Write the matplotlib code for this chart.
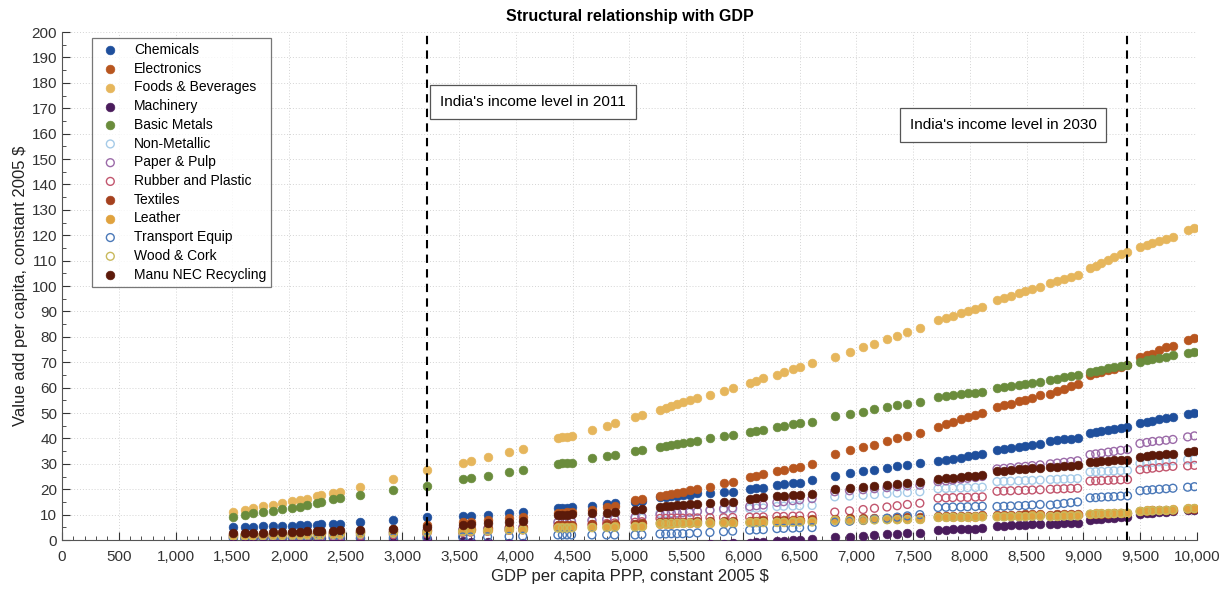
import numpy as np
import matplotlib
matplotlib.use('Agg')
import matplotlib.pyplot as plt
from matplotlib.ticker import MultipleLocator, FuncFormatter

plt.rcParams['font.family'] = ['Liberation Sans', 'DejaVu Sans']

# GDP per capita PPP (x) for every observation
gdp = [
    1510, 1610, 1680, 1770, 1860, 1940, 2030, 2100, 2160, 2250, 2280, 2390, 2450, 2630, 2920, 3215,
    3530, 3600, 3750, 3940, 4060, 4370, 4410, 4450, 4490, 4670, 4800, 4870, 5050, 5110,
    5270, 5320, 5370, 5420, 5470, 5530, 5600, 5710, 5830, 5910, 6060, 6120, 6180, 6300, 6360, 6440, 6500, 6610,
    6810, 6940, 7060, 7160, 7270, 7360, 7450, 7560, 7720, 7790, 7850, 7920, 7980, 8050, 8110,
    8240, 8300, 8360, 8430, 8490, 8550, 8620, 8710, 8770, 8830, 8890, 8950,
    9060, 9110, 9160, 9220, 9270, 9330, 9390, 9500, 9560, 9610, 9670, 9730, 9790, 9920, 9980,
]

chemicals = [
    5.1, 5.2, 5.3, 5.4, 5.5, 5.6, 5.7, 5.8, 5.9, 6.1, 6.2, 6.4, 6.5, 7.0, 7.9, 9.0,
    9.4, 9.6, 10.0, 10.6, 11.0, 12.6, 12.7, 12.8, 12.9, 13.4, 14.2, 14.5, 15.0, 15.3,
    17.0, 17.1, 17.3, 17.4, 17.6, 17.7, 18.5, 18.6, 18.9, 19.0, 20.2, 20.4, 20.6, 21.6, 21.9, 22.3, 22.5, 23.6,
    25.2, 26.2, 27.0, 27.6, 28.4, 29.0, 29.6, 30.3, 31.0, 31.5, 31.9, 32.4, 32.9, 33.3, 33.8,
    35.4, 35.8, 36.2, 36.7, 37.1, 37.5, 38.0, 39.0, 39.3, 39.6, 39.9, 40.2,
    42.0, 42.4, 42.8, 43.2, 43.6, 44.0, 44.5, 46.0, 46.5, 47.0, 47.8, 48.2, 48.6, 49.6, 50.0,
]

electronics = [
    2.0, 2.1, 2.2, 2.3, 2.4, 2.5, 2.6, 2.7, 2.8, 2.9, 3.0, 3.2, 3.3, 3.5, 4.5, 6.0,
    7.0, 7.2, 7.8, 8.5, 9.0, 10.5, 10.7, 10.9, 11.1, 12.0, 13.0, 13.5, 15.7, 16.2,
    17.5, 17.9, 18.3, 18.7, 19.1, 19.5, 20.0, 21.0, 22.3, 23.0, 25.0, 25.4, 25.8, 27.0, 27.5, 28.2, 28.6, 30.0,
    33.8, 35.3, 36.5, 37.4, 38.8, 40.0, 41.0, 42.0, 44.5, 45.5, 46.4, 47.5, 48.3, 49.3, 50.0,
    52.4, 53.0, 53.7, 54.6, 55.3, 56.1, 57.0, 57.5, 58.5, 59.5, 60.5, 61.3,
    65.0, 65.6, 66.2, 66.9, 67.5, 68.2, 69.0, 72.0, 72.7, 73.4, 75.0, 75.8, 76.5, 78.8, 79.5,
]

foods_beverages = [
    11.0, 12.0, 12.6, 13.3, 13.8, 14.5, 15.2, 15.7, 16.3, 17.2, 17.6, 18.5, 19.0, 21.0, 24.0, 27.5,
    30.3, 31.0, 32.7, 34.6, 36.0, 40.0, 40.4, 40.7, 41.0, 43.3, 45.0, 46.0, 48.5, 49.3,
    51.0, 51.8, 52.6, 53.4, 54.2, 55.0, 55.8, 57.0, 58.8, 60.0, 62.0, 62.8, 63.6, 65.0, 66.0, 67.3, 68.0, 69.7,
    72.0, 74.0, 75.8, 77.3, 79.0, 80.4, 81.8, 83.5, 86.6, 87.5, 88.3, 89.3, 90.0, 91.0, 91.7,
    94.5, 95.3, 96.1, 97.2, 98.0, 98.8, 99.6, 101.0, 101.8, 102.6, 103.4, 104.2,
    107.0, 108.0, 109.1, 110.3, 111.3, 112.5, 113.5, 115.3, 116.1, 116.8, 117.8, 118.6, 119.4, 122.2, 123.0,
]

machinery = [
    1.0, 1.0, 1.0, 1.0, 0.9, 0.9, 0.9, 0.9, 0.9, 0.8, 0.8, 0.8, 0.7, 0.7, 0.6, 0.5,
    -0.5, -0.6, -0.8, -1.0, -1.2, -2.0, -2.0, -2.1, -2.1, -2.3, -2.4, -2.5, -2.6, -2.6,
    -2.5, -2.4, -2.3, -2.2, -2.1, -2.0, -1.9, -1.7, -1.5, -1.3, -1.0, -0.9, -0.8, -0.5, -0.3, 0.0, 0.2, 0.4,
    1.0, 1.3, 1.6, 1.9, 2.2, 2.4, 2.6, 2.8, 4.0, 4.1, 4.2, 4.3, 4.4, 4.5, 4.7,
    5.5, 5.6, 5.8, 5.9, 6.0, 6.2, 6.3, 6.4, 6.5, 6.6, 6.6, 6.7,
    8.0, 8.2, 8.4, 8.6, 8.8, 9.0, 9.2, 10.4, 10.6, 10.8, 11.0, 11.2, 11.4, 11.8, 12.0,
]

basic_metals = [
    9.2, 9.9, 10.5, 11.0, 11.5, 12.2, 12.7, 13.0, 13.6, 14.6, 15.0, 16.0, 16.5, 17.7, 19.7, 21.3,
    24.0, 24.3, 25.3, 26.6, 27.5, 30.0, 30.2, 30.3, 30.5, 32.3, 33.0, 33.5, 35.2, 35.6,
    36.7, 37.0, 37.4, 37.8, 38.2, 38.6, 39.1, 40.0, 40.8, 41.3, 42.5, 42.9, 43.2, 44.5, 45.0, 45.6, 46.0, 46.5,
    49.0, 49.8, 50.6, 51.4, 52.2, 53.0, 53.6, 54.5, 56.4, 56.7, 57.0, 57.4, 57.7, 58.0, 58.3,
    59.8, 60.2, 60.6, 61.0, 61.4, 61.8, 62.3, 63.0, 63.5, 64.0, 64.5, 65.0,
    66.2, 66.6, 67.1, 67.6, 68.0, 68.5, 69.0, 70.2, 70.7, 71.2, 71.6, 72.2, 72.8, 73.8, 74.2,
]

non_metallic = [
    1.0, 1.1, 1.1, 1.2, 1.2, 1.3, 1.3, 1.4, 1.4, 1.5, 1.5, 1.6, 1.7, 2.0, 2.5, 3.0,
    3.5, 3.6, 3.9, 4.3, 4.5, 7.0, 7.0, 7.1, 7.1, 7.5, 7.9, 8.0, 8.5, 8.7,
    10.6, 10.6, 10.7, 10.7, 10.8, 10.8, 11.2, 11.5, 11.8, 12.0, 12.4, 12.5, 12.6, 13.2, 13.3, 13.4, 13.5, 13.6,
    17.0, 17.3, 17.6, 17.9, 18.2, 18.5, 18.7, 19.0, 20.2, 20.3, 20.4, 20.5, 20.6, 20.7, 20.8,
    23.0, 23.1, 23.2, 23.3, 23.4, 23.5, 23.6, 23.8, 23.9, 24.0, 24.1, 24.2,
    26.8, 26.9, 27.0, 27.1, 27.2, 27.3, 27.4, 30.2, 30.4, 30.6, 30.8, 31.0, 31.2, 31.6, 31.8,
]

paper_pulp = [
    1.5, 1.6, 1.6, 1.7, 1.8, 1.9, 2.0, 2.0, 2.1, 2.2, 2.2, 2.4, 2.5, 2.7, 3.1, 3.5,
    4.0, 4.1, 4.4, 4.8, 5.0, 7.0, 7.1, 7.2, 7.3, 7.8, 8.2, 8.4, 9.0, 9.2,
    10.0, 10.2, 10.4, 10.6, 10.8, 11.0, 11.3, 11.8, 12.3, 12.6, 13.2, 13.5, 13.8, 14.8, 15.1, 15.5, 15.8, 16.3,
    19.0, 19.4, 19.8, 20.2, 20.6, 21.0, 21.3, 21.6, 23.0, 23.3, 23.6, 24.0, 24.3, 24.6, 25.0,
    28.0, 28.2, 28.5, 28.8, 29.0, 29.3, 29.6, 30.0, 30.3, 30.6, 30.9, 31.2,
    33.6, 33.9, 34.2, 34.6, 34.9, 35.3, 35.6, 38.0, 38.4, 38.8, 39.0, 39.3, 39.6, 40.6, 41.0,
]

rubber_plastic = [
    0.8, 0.9, 0.9, 1.0, 1.0, 1.1, 1.1, 1.2, 1.2, 1.3, 1.3, 1.4, 1.5, 1.7, 2.1, 2.5,
    3.0, 3.1, 3.4, 3.8, 4.0, 5.5, 5.6, 5.6, 5.7, 6.1, 6.5, 6.7, 7.0, 7.2,
    8.5, 8.5, 8.6, 8.6, 8.6, 8.7, 8.7, 8.8, 8.8, 8.9, 9.0, 9.0, 9.1, 9.3, 9.3, 9.4, 9.5, 9.6,
    11.0, 11.5, 12.0, 12.5, 13.0, 13.5, 14.0, 14.5, 16.5, 16.6, 16.7, 16.8, 16.8, 16.9, 17.0,
    19.2, 19.3, 19.4, 19.5, 19.6, 19.7, 19.8, 20.0, 20.1, 20.2, 20.3, 20.4,
    23.2, 23.3, 23.4, 23.5, 23.6, 23.7, 23.8, 27.7, 28.0, 28.3, 28.5, 28.8, 29.0, 29.2, 29.4,
]

textiles = [
    2.2, 2.3, 2.3, 2.4, 2.5, 2.5, 2.6, 2.7, 2.7, 2.8, 2.9, 3.0, 3.1, 3.3, 3.6, 4.0,
    4.3, 4.4, 4.7, 5.0, 5.2, 6.0, 6.0, 6.1, 6.1, 6.2, 6.3, 6.4, 6.5, 6.6,
    7.0, 7.0, 7.1, 7.1, 7.2, 7.2, 7.3, 7.4, 7.5, 7.5, 7.6, 7.6, 7.7, 7.8, 7.9, 7.9, 8.0, 8.1,
    8.4, 8.5, 8.6, 8.7, 8.8, 8.9, 9.0, 9.1, 9.3, 9.4, 9.4, 9.5, 9.5, 9.6, 9.7,
    9.8, 9.9, 9.9, 10.0, 10.1, 10.1, 10.2, 10.0, 10.1, 10.1, 10.2, 10.3,
    10.2, 10.3, 10.3, 10.4, 10.5, 10.5, 10.6, 11.5, 11.6, 11.7, 11.8, 11.9, 12.0, 12.2, 12.3,
]

leather = [
    2.0, 2.1, 2.1, 2.2, 2.2, 2.3, 2.4, 2.4, 2.5, 2.6, 2.6, 2.7, 2.8, 3.0, 3.2, 3.5,
    3.8, 3.9, 4.1, 4.4, 4.5, 5.0, 5.0, 5.0, 5.1, 5.2, 5.3, 5.4, 5.5, 5.6,
    6.4, 6.5, 6.5, 6.6, 6.6, 6.7, 6.7, 6.8, 6.9, 6.9, 7.0, 7.0, 7.1, 7.2, 7.2, 7.3, 7.3, 7.4,
    7.9, 8.0, 8.0, 8.1, 8.1, 8.2, 8.2, 8.3, 9.0, 9.0, 9.1, 9.1, 9.2, 9.2, 9.3,
    9.4, 9.5, 9.5, 9.6, 9.6, 9.7, 9.7, 9.6, 9.6, 9.7, 9.7, 9.8,
    10.4, 10.5, 10.5, 10.6, 10.7, 10.7, 10.8, 11.6, 11.7, 11.8, 11.9, 12.0, 12.1, 12.5, 12.7,
]

transport_equip = [
    0.5, 0.5, 0.5, 0.6, 0.6, 0.6, 0.6, 0.7, 0.7, 0.7, 0.7, 0.8, 0.8, 0.8, 0.9, 1.0,
    1.2, 1.2, 1.3, 1.4, 1.5, 2.0, 2.0, 2.0, 2.0, 2.0, 2.0, 2.0, 2.0, 2.1,
    2.4, 2.4, 2.5, 2.5, 2.5, 2.6, 2.8, 3.0, 3.3, 3.5, 3.9, 4.0, 4.1, 4.5, 4.6, 4.7, 4.8, 4.9,
    7.0, 7.4, 7.8, 8.2, 8.6, 9.0, 9.5, 10.0, 12.8, 12.9, 13.0, 13.0, 13.1, 13.2, 13.3,
    13.2, 13.3, 13.4, 13.5, 13.6, 13.8, 14.0, 13.8, 14.1, 14.4, 14.7, 15.0,
    16.6, 16.7, 16.9, 17.0, 17.1, 17.3, 17.4, 19.4, 19.6, 19.8, 20.0, 20.2, 20.4, 20.8, 21.0,
]

wood_cork = [
    1.5, 1.6, 1.6, 1.7, 1.8, 1.8, 1.9, 1.9, 2.0, 2.0, 2.1, 2.2, 2.2, 2.4, 2.7, 3.0,
    3.3, 3.4, 3.6, 3.9, 4.0, 4.7, 4.7, 4.7, 4.8, 4.9, 5.0, 5.0, 5.1, 5.2,
    6.5, 6.5, 6.6, 6.6, 6.6, 6.7, 6.7, 6.8, 6.8, 6.8, 6.9, 6.9, 6.9, 7.0, 7.0, 7.0, 7.1, 7.1,
    7.8, 7.8, 7.9, 7.9, 8.0, 8.0, 8.1, 8.1, 8.9, 8.9, 9.0, 9.0, 9.0, 9.1, 9.1,
    9.1, 9.1, 9.2, 9.2, 9.2, 9.3, 9.3, 9.2, 9.3, 9.4, 9.4, 9.5,
    10.2, 10.2, 10.3, 10.4, 10.4, 10.5, 10.6, 11.3, 11.4, 11.5, 11.6, 11.7, 11.8, 12.2, 12.4,
]

manu_nec = [
    2.6, 2.7, 2.8, 2.9, 3.0, 3.1, 3.2, 3.3, 3.4, 3.5, 3.6, 3.7, 3.8, 4.0, 4.5, 5.0,
    6.0, 6.2, 6.6, 7.2, 7.6, 9.8, 9.9, 10.0, 10.1, 10.5, 10.8, 11.0, 12.0, 12.3,
    13.0, 13.2, 13.4, 13.6, 13.8, 14.0, 14.2, 14.5, 14.8, 15.0, 16.0, 16.4, 16.8, 17.2, 17.4, 17.6, 17.7, 18.0,
    20.0, 20.5, 21.0, 21.3, 21.7, 22.0, 22.4, 22.8, 24.0, 24.3, 24.6, 24.9, 25.1, 25.4, 25.6,
    27.0, 27.3, 27.5, 27.8, 28.0, 28.3, 28.5, 28.6, 28.8, 29.0, 29.2, 29.4,
    30.8, 30.9, 31.1, 31.2, 31.4, 31.5, 31.7, 32.8, 33.0, 33.3, 33.6, 33.8, 34.0, 34.8, 35.0,
]

# (label, values, colour, filled marker)
series = [
    ('Chemicals', chemicals, '#1f4f9c', True),
    ('Electronics', electronics, '#b8561f', True),
    ('Foods & Beverages', foods_beverages, '#e6b65c', True),
    ('Machinery', machinery, '#4a1c5c', True),
    ('Basic Metals', basic_metals, '#6a8c3c', True),
    ('Non-Metallic', non_metallic, '#a6cbe8', False),
    ('Paper & Pulp', paper_pulp, '#9b6aa8', False),
    ('Rubber and Plastic', rubber_plastic, '#c2566e', False),
    ('Textiles', textiles, '#a5411e', True),
    ('Leather', leather, '#e0a23e', True),
    ('Transport Equip', transport_equip, '#4a78b8', False),
    ('Wood & Cork', wood_cork, '#c9b95c', False),
    ('Manu NEC Recycling', manu_nec, '#5c1a0a', True),
]

income_2011 = 3215
income_2030 = 9390

fig = plt.figure(figsize=(12.24, 5.9), dpi=100)
ax = fig.add_axes([0.0507, 0.0847, 0.927, 0.861])

for name, vals, col, filled in series:
    if filled:
        ax.scatter(gdp, vals, s=40, c=col, edgecolors=col, linewidths=0.4,
                   label=name, zorder=3)
    else:
        ax.scatter(gdp, vals, s=32, facecolors='none', edgecolors=col,
                   linewidths=1.0, label=name, zorder=3)

ax.axvline(income_2011, color='black', ls=(0, (4, 3)), lw=1.5, zorder=4)
ax.axvline(income_2030, color='black', ls=(0, (4, 3)), lw=1.5, zorder=4)

ax.text(3330, 172.3, "India's income level in 2011", fontsize=11, ha='left', va='center',
        bbox=dict(boxstyle='square,pad=0.65', fc='white', ec='#555555', lw=0.9), zorder=5)
ax.text(7470, 163.3, "India's income level in 2030", fontsize=11, ha='left', va='center',
        bbox=dict(boxstyle='square,pad=0.65', fc='white', ec='#555555', lw=0.9), zorder=5)

ax.set_xlim(0, 10000)
ax.set_ylim(0, 200)
ax.xaxis.set_major_locator(MultipleLocator(500))
ax.xaxis.set_minor_locator(MultipleLocator(100))
ax.yaxis.set_major_locator(MultipleLocator(10))
ax.yaxis.set_minor_locator(MultipleLocator(5))
ax.xaxis.set_major_formatter(FuncFormatter(lambda v, p: f'{int(v):,}'))
ax.tick_params(which='both', direction='in', labelsize=11, colors='#333333')
ax.tick_params(which='major', length=6)
ax.tick_params(which='minor', length=3)
ax.tick_params(axis='x', pad=7)

ax.grid(True, which='major', color='#d4d4d4', ls=(0, (1, 2)), lw=0.7, zorder=0)
for side in ('top', 'right'):
    ax.spines[side].set_visible(False)
for side in ('left', 'bottom'):
    ax.spines[side].set_color('#555555')

ax.set_title('Structural relationship with GDP', fontsize=11.5, fontweight='bold', pad=8)
ax.set_xlabel('GDP per capita PPP, constant 2005 $', fontsize=12, color='#222222', labelpad=4)
ax.set_ylabel('Value add per capita, constant 2005 $', fontsize=12, color='#222222', labelpad=3)

leg = ax.legend(loc='upper left', bbox_to_anchor=(0.026, 0.988), borderaxespad=0,
                fontsize=10, frameon=True, fancybox=False, edgecolor='#555555',
                labelspacing=0.34, handletextpad=0.7, borderpad=0.35, scatterpoints=1)
leg.get_frame().set_linewidth(0.9)

fig.savefig('out.png', dpi=100)
